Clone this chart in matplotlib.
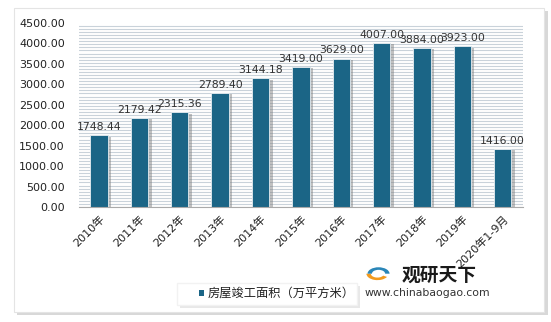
import numpy as np
import matplotlib.pyplot as plt
import matplotlib.patheffects as pe
from matplotlib.patches import FancyBboxPatch, Rectangle, Wedge

plt.rcParams['font.family'] = ['DejaVu Sans', 'Noto Sans CJK SC']

years = ["2010年", "2011年", "2012年", "2013年", "2014年", "2015年",
         "2016年", "2017年", "2018年", "2019年", "2020年1-9月"]
area = [1748.44, 2179.42, 2315.36, 2789.40, 3144.18, 3419.00,
        3629.00, 4007.00, 3884.00, 3923.00, 1416.00]
series_name = "房屋竣工面积（万平方米）"

bar_color = '#1b6586'

fig = plt.figure(figsize=(5.51, 3.22), dpi=100)

# white card with soft shadow
shadow = FancyBboxPatch((0.03, 0.022), 0.965, 0.945, boxstyle='square,pad=0',
                        transform=fig.transFigure, facecolor='#d8d8d8',
                        edgecolor='none', zorder=-2)
card = FancyBboxPatch((0.025, 0.032), 0.962, 0.943, boxstyle='square,pad=0',
                      transform=fig.transFigure, facecolor='white',
                      edgecolor='#e4e4e4', lw=0.8, zorder=-1)
fig.patches.extend([shadow, card])

ax = fig.add_axes([0.143, 0.357, 0.806, 0.572])
ax.set_facecolor('white')
x = np.arange(len(years))

# striped plot background
for yy in np.arange(0, 4500, 75):
    ax.axhline(yy, color='#c9d2da', lw=0.8, zorder=0)

bars = ax.bar(x, area, width=0.43, color=bar_color, zorder=2,
              edgecolor='#e8eef2', linewidth=0.6)
for b in bars:
    b.set_path_effects([pe.SimplePatchShadow(offset=(2.5, -1), shadow_rgbFace='#777777', alpha=0.45),
                        pe.Normal()])

for xi, v in zip(x, area):
    ax.text(xi, v + 80, f"{v:.2f}", ha='center', va='bottom', fontsize=7.8, color='#333333', zorder=3)

ax.set_xlim(-0.5, len(years) - 0.5)
ax.set_ylim(0, 4500)
ax.set_yticks(np.arange(0, 4501, 500))
ax.set_yticklabels([f"{t:.2f}" for t in np.arange(0, 4501, 500)], fontsize=8, color='#222222')
ax.set_xticks(x)
ax.set_xticklabels(years, rotation=45, ha='right', rotation_mode='anchor', fontsize=8, color='#222222')
ax.tick_params(axis='y', length=0, pad=10)
ax.tick_params(axis='x', length=0, pad=5)
for s in ['top', 'right', 'left']:
    ax.spines[s].set_visible(False)
ax.spines['bottom'].set_color('#aaaaaa')

# legend box
lg_sh = Rectangle((0.326, 0.045), 0.327, 0.068, transform=fig.transFigure,
                  facecolor='#e8e8e8', edgecolor='none', zorder=1)
lg = Rectangle((0.321, 0.053), 0.327, 0.068, transform=fig.transFigure,
               facecolor='white', edgecolor='#f2f2f2', zorder=1.1)
fig.patches.extend([lg_sh, lg])
fig.patches.append(Rectangle((0.361, 0.082), 0.010, 0.018, transform=fig.transFigure,
                             facecolor=bar_color, edgecolor='none', zorder=2))
fig.text(0.377, 0.09, series_name, fontsize=8.8, va='center', ha='left', color='#222222')

# logo
fig.text(0.728, 0.146, "观研天下", fontsize=13.5, fontweight='bold', color='#1a1a1a',
         family=['Noto Sans CJK SC'], va='center')
fig.text(0.662, 0.09, "www.chinabaogao.com", fontsize=7.8, color='#333333', va='center')
fig.patches.append(Wedge((0.685, 0.15), 0.02, 180, 330, width=0.008,
                         transform=fig.transFigure, facecolor='#f29a1e',
                         edgecolor='none', zorder=2))
fig.patches.append(Wedge((0.687, 0.15), 0.02, 0, 180, width=0.008,
                         transform=fig.transFigure, facecolor='#2a86b8',
                         edgecolor='none', zorder=2))

fig.savefig('out.png', dpi=100)
